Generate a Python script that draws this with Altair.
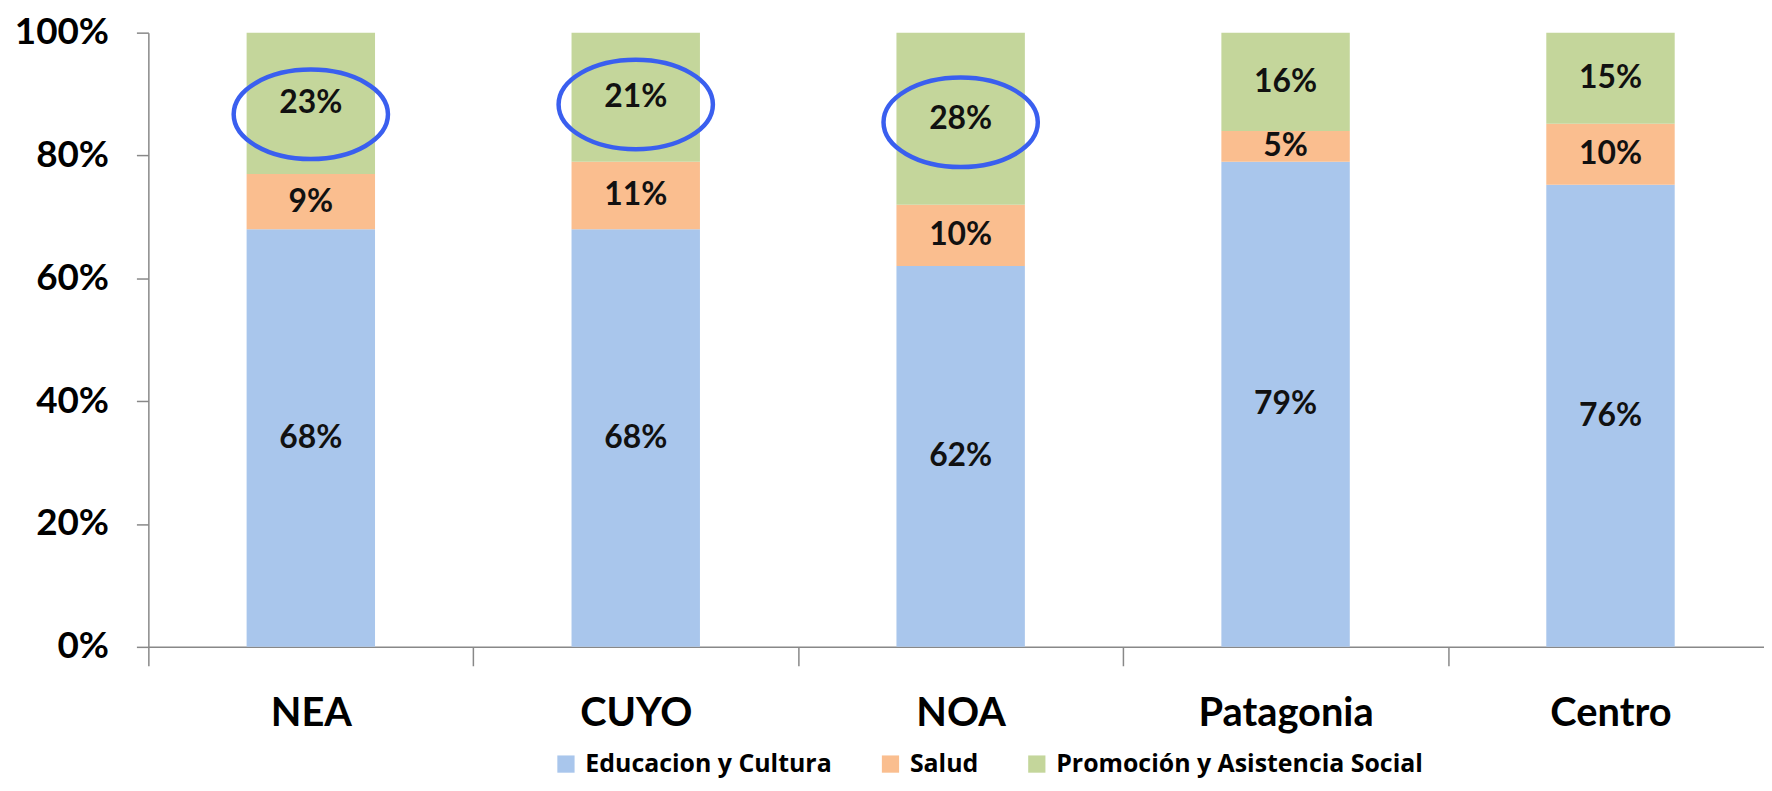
import altair as alt
import pandas as pd

regions = ["NEA", "CUYO", "NOA", "Patagonia", "Centro"]
series = ["Educacion y Cultura", "Salud", "Promoción y Asistencia Social"]
educacion = [68, 68, 62, 79, 76]
salud = [9, 11, 10, 5, 10]
promocion = [23, 21, 28, 16, 15]
colors = ["#A9C6EC", "#FABE8F", "#C4D69B"]

# highlighted (circled) segments: region and vertical centre of the ellipse (share of 100%)
circled_regions = ["NEA", "CUYO", "NOA"]
circled_center = [0.867, 0.883, 0.854]

rows = []
for i, r in enumerate(regions):
    for j, (s, vals) in enumerate(zip(series, [educacion, salud, promocion])):
        rows.append({"region": r, "serie": s, "order": j, "value": vals[i]})
df = pd.DataFrame(rows)
circ = pd.DataFrame({"region": circled_regions, "yc": circled_center})

FONT = "Lato"
GRAY = "#888888"

x_enc = alt.X(
    "region:N",
    sort=regions,
    scale=alt.Scale(range=[0, 1632], paddingInner=0, paddingOuter=0),
    axis=alt.Axis(
        title=None, labelAngle=0, labelFont=FONT, labelFontWeight="bold",
        labelFontSize=40, labelColor="#000000", tickBand="extent", tickSize=19,
        tickColor=GRAY, tickWidth=1.5, domainColor=GRAY, domainWidth=1.5,
        labelPadding=60, labelBaseline="alphabetic", grid=False,
    ),
)

y_scale = alt.Scale(domain=[0, 1], nice=False)
y_axis = alt.Axis(
    values=[0, 0.2, 0.4, 0.6, 0.8, 1.0], format=".0%", title=None,
    labelFont=FONT, labelFontWeight="bold", labelFontSize=37, labelColor="#000000",
    tickSize=12, tickColor=GRAY, tickWidth=1.5, domainColor=GRAY, domainWidth=1.5,
    labelPadding=28, grid=False,
)

base = alt.Chart(df).transform_stack(
    stack="value",
    groupby=["region"],
    as_=["y0", "y1"],
    offset="normalize",
    sort=[alt.SortField("order", order="ascending")],
).transform_calculate(
    mid="(datum.y0 + datum.y1) / 2",
    label="datum.value + '%'",
)

bars = base.mark_bar(size=129).encode(
    x=x_enc,
    y=alt.Y("y0:Q", scale=y_scale, axis=y_axis),
    y2="y1:Q",
    color=alt.Color(
        "serie:N",
        sort=series,
        scale=alt.Scale(domain=series, range=colors),
        legend=alt.Legend(
            orient="none", legendX=407, legendY=722, direction="horizontal",
            title=None, labelFont="Open Sans", labelFontWeight="bold", labelFontSize=25,
            labelColor="#000000", symbolType="square", symbolSize=300,
            symbolStrokeWidth=0, labelOffset=7, columnPadding=46, padding=0,
            labelLimit=600, symbolOpacity=1,
        ),
    ),
)

labels = base.mark_text(
    font=FONT, fontWeight="bold", fontSize=32, color="#111111", baseline="middle"
).encode(
    x=alt.X("region:N", sort=regions),
    y=alt.Y("mid:Q", scale=y_scale),
    text="label:N",
)

ellipse_path = "M -1 0 A 1 0.58 0 1 1 1 0 A 1 0.58 0 1 1 -1 0 Z"
ellipses = alt.Chart(circ).mark_point(
    shape=ellipse_path, size=24025, filled=False, stroke="#3A5FEF",
    strokeWidth=4.5, opacity=1,
).encode(
    x=alt.X("region:N", sort=regions),
    y=alt.Y("yc:Q", scale=y_scale),
)

chart = alt.layer(bars, labels, ellipses).properties(
    width=1623,
    height=617,
    autosize=alt.AutoSizeParams(type="none"),
    padding={"left": 141, "top": 23, "right": 0, "bottom": 134},
    background="white",
).configure_view(strokeWidth=0)

chart.save("out.html", embed_options={"renderer": "svg", "actions": False})
